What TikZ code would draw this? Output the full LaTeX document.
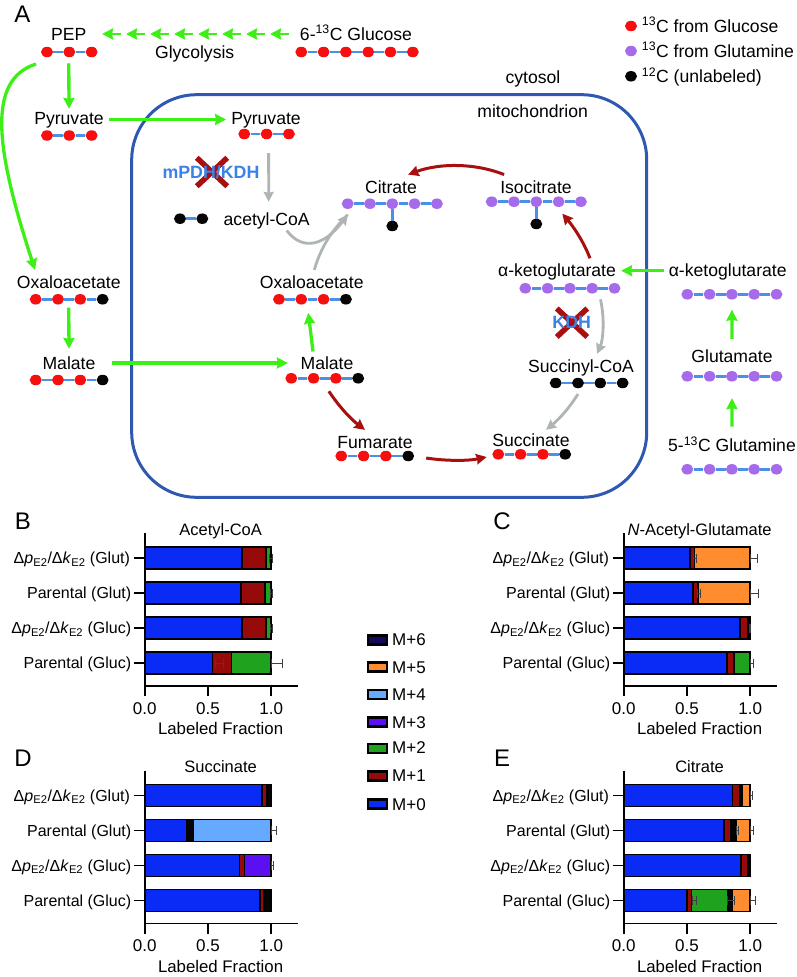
\documentclass[tikz,border=0pt]{standalone}
\usepackage{fontspec}
\setmainfont{Liberation Sans}
\usetikzlibrary{arrows.meta,shapes.geometric,shapes.misc}

\definecolor{labred}{HTML}{F50F0F}
\definecolor{labpurple}{HTML}{A56BEB}
\definecolor{labblack}{HTML}{050505}
\definecolor{bondblue}{HTML}{4A90E8}
\definecolor{mitoblue}{HTML}{2F58B0}
\definecolor{flowgreen}{HTML}{3CF015}
\definecolor{flowred}{HTML}{A80F0F}
\definecolor{flowgrey}{HTML}{AEB5B3}
\definecolor{enzblue}{HTML}{3B82E8}
\definecolor{mzero}{HTML}{0A2BF5}
\definecolor{mone}{HTML}{960A0A}
\definecolor{mtwo}{HTML}{1FA31F}
\definecolor{mthree}{HTML}{5A10F0}
\definecolor{mfour}{HTML}{66AAFF}
\definecolor{mfive}{HTML}{FF8C2E}
\definecolor{msix}{HTML}{14085A}

\tikzstyle{carbon} = [ellipse,minimum width=12pt,minimum height=10.5pt,inner sep=0pt]
\tikzstyle{bond} = [bondblue,line width=2.8pt]
\tikzstyle{metab} = [font=\fontsize{17.6}{20}\selectfont,text height=12.5pt,text depth=0pt,inner sep=0pt]
\tikzstyle{enzyme} = [metab,font=\fontsize{17.8}{20}\selectfont\bfseries,text=enzblue]
\tikzstyle{blocked} = [draw=flowred,cross out,line width=5.5pt,minimum width=25pt,minimum height=23pt,inner sep=0pt]
\tikzstyle{greenflow} = [flowgreen,line width=3.3pt,-{Stealth[length=11pt,width=11pt,inset=1pt]}]
\tikzstyle{redflow} = [flowred,line width=3pt,-{Stealth[length=10.5pt,width=10.5pt,inset=1pt]}]
\tikzstyle{greyflow} = [flowgrey,line width=2.8pt,-{Stealth[length=10pt,width=10pt,inset=1pt]}]
\tikzstyle{panelname} = [font=\fontsize{24}{26}\selectfont,text height=17pt,text depth=0pt,inner sep=0pt]
\tikzstyle{axisline} = [black,line width=1.7pt]
\tikzstyle{chartlab} = [font=\fontsize{16}{18}\selectfont,text height=11.5pt,text depth=0pt,inner sep=0pt]
\tikzstyle{segment} = [draw=black,line width=1.7pt]
\tikzstyle{whisker} = [black!75,line width=0.6pt,{Bar[width=9pt]}-{Bar[width=9pt]}]

% name, first x, y, colours
\newcommand{\carbonchain}[4]{
	\foreach \colr [count=\i, remember=\i as \p (initially 0)] in {#4}{
		\node[carbon,fill=\colr] (#1\i) at ({#2+(\i-1)*22.3},#3) {};
		\ifnum\p>0 \draw[bond] (#1\p) -- (#1\i); \fi
	}
}
% row y, from, to, colour
\newcommand{\barseg}[4]{\draw[segment,fill=#4] ({#2},{#1-11}) rectangle ({#3},{#1+11});}
\newcommand{\whisk}[3]{\draw[whisker] ({#2},#1) -- ({#3},#1);}
% axes of one chart, title as argument
\newcommand{\chartaxes}[1]{
	\draw[axisline] (0,533) -- (0,696);
	\draw[axisline] (0,686) -- (1.21,686);
	\draw[axisline] (0.5,686) -- (0.5,696);
	\draw[axisline] (1,686) -- (1,696);
	\foreach \r in {558,593,628,663}{\draw[axisline] (-0.085,\r) -- (0,\r);}
	\node[metab,font=\fontsize{16.5}{18}\selectfont] (title) at (0.6,529) {#1};
	\node[chartlab,anchor=east] (row1) at (-0.115,558) {Δ\textit{p}\textsubscript{E2}/Δ\textit{k}\textsubscript{E2} (Glut)};
	\node[chartlab,anchor=east] (row2) at (-0.105,593) {Parental (Glut)};
	\node[chartlab,anchor=east] (row3) at (-0.105,628) {Δ\textit{p}\textsubscript{E2}/Δ\textit{k}\textsubscript{E2} (Gluc)};
	\node[chartlab,anchor=east] (row4) at (-0.105,663) {Parental (Gluc)};
	\node[metab,font=\fontsize{17}{19}\selectfont] (tick0) at (0,708) {0.0};
	\node[metab,font=\fontsize{17}{19}\selectfont] (tick1) at (0.5,708) {0.5};
	\node[metab,font=\fontsize{17}{19}\selectfont] (tick2) at (1,708) {1.0};
	\node[metab,font=\fontsize{16.8}{19}\selectfont] (xlabel) at (0.6,728.5) {Labeled Fraction};
}

\begin{document}
\begin{tikzpicture}[x=1pt,y=-1pt]
	\useasboundingbox (0,0) rectangle (796,977);

	% panel A
	\node[panelname] (panA) at (22.5,14) {A};
	\node[draw=mitoblue,line width=3pt,rounded corners=65pt,minimum width=515pt,minimum height=402.6pt] (mito) at (389.2,296) {};
	\node[metab] (cytosol) at (533,77) {cytosol};
	\node[metab] (mitochondrion) at (532.7,111) {mitochondrion};

	\node[metab] (pep) at (68.7,34) {PEP};
	\node[metab] (glucose) at (356,34) {6-\textsuperscript{13}C Glucose};
	\node[metab] (glycolysis) at (194.7,52) {Glycolysis};
	\node[metab] (pyrA) at (69,118) {Pyruvate};
	\node[metab] (pyrB) at (266,118) {Pyruvate};
	\node[metab] (acetyl) at (266.7,219) {acetyl-CoA};
	\node[metab] (citrate) at (391,187) {Citrate};
	\node[metab] (isocitrate) at (536,187) {Isocitrate};
	\node[metab] (oaaA) at (68.7,282.7) {Oxaloacetate};
	\node[metab] (oaaB) at (311.7,282.7) {Oxaloacetate};
	\node[metab] (malA) at (69,363) {Malate};
	\node[metab] (malB) at (327,363) {Malate};
	\node[metab] (fumarate) at (375,442) {Fumarate};
	\node[metab] (succinate) at (531,440.5) {Succinate};
	\node[metab] (succoa) at (581,366) {Succinyl-CoA};
	\node[metab] (akgB) at (557,270.7) {α-ketoglutarate};
	\node[metab] (akgA) at (727.7,270.7) {α-ketoglutarate};
	\node[metab] (glutamate) at (732,356.7) {Glutamate};
	\node[metab] (glutamine) at (732,445.7) {5-\textsuperscript{13}C Glutamine};

	\carbonchain{cpep}{47}{52}{labred,labred,labred}
	\carbonchain{cglc}{301.3}{52}{labred,labred,labred,labred,labred,labred}
	\carbonchain{cpyrA}{47}{135.5}{labred,labred,labred}
	\carbonchain{cpyrB}{244.3}{134}{labred,labred,labred}
	\carbonchain{cace}{180}{218.7}{labblack,labblack}
	\carbonchain{ccit}{347.7}{203.7}{labpurple,labpurple,labpurple,labpurple,labpurple}
	\carbonchain{ciso}{491.7}{201.7}{labpurple,labpurple,labpurple,labpurple,labpurple}
	\carbonchain{coaaA}{35.7}{299.3}{labred,labred,labred,labblack}
	\carbonchain{coaaB}{279}{299.3}{labred,labred,labred,labblack}
	\carbonchain{cmalA}{35.7}{380}{labred,labred,labred,labblack}
	\carbonchain{cmalB}{291.3}{378.3}{labred,labred,labred,labblack}
	\carbonchain{cfum}{341.3}{456}{labred,labred,labred,labblack}
	\carbonchain{csuc}{498.3}{454.3}{labred,labred,labred,labblack}
	\carbonchain{cscoa}{555.7}{383}{labblack,labblack,labblack,labblack}
	\carbonchain{cakgB}{525.3}{288.3}{labpurple,labpurple,labpurple,labpurple,labpurple}
	\carbonchain{cakgA}{687.3}{294.3}{labpurple,labpurple,labpurple,labpurple,labpurple}
	\carbonchain{cglu}{687.3}{376.3}{labpurple,labpurple,labpurple,labpurple,labpurple}
	\carbonchain{cgln}{687.3}{469.3}{labpurple,labpurple,labpurple,labpurple,labpurple}

	\node[carbon,fill=labblack] (ccitx) at (392.3,226) {};
	\node[carbon,fill=labblack] (cisox) at (536.3,224) {};
	\draw[bond] (ccit3) -- (ccitx);
	\draw[bond] (ciso3) -- (cisox);

	% legend
	\node[carbon,fill=labred] (keyred) at (631,26) {};
	\node[carbon,fill=labpurple] (keypurple) at (631,51) {};
	\node[carbon,fill=labblack] (keyblack) at (631,76.3) {};
	\node[metab,anchor=west] (keyredtxt) at (641.7,26) {\textsuperscript{13}C from Glucose};
	\node[metab,anchor=west] (keypurpletxt) at (641.7,51) {\textsuperscript{13}C from Glutamine};
	\node[metab,anchor=west] (keyblacktxt) at (641.7,76.3) {\textsuperscript{12}C (unlabeled)};

	% enzymes
	\node[blocked] (xpdh) at (212,172) {};
	\node[enzyme] (pdh) at (211,172.7) {mPDH/KDH};
	\node[blocked] (xkdh) at (572,322.7) {};
	\node[enzyme] (kdh) at (571.7,322.7) {KDH};

	% green arrows
	\foreach \i in {0,...,7}{
		\coordinate (gtip\i) at ({102+24*\i},34);
		\coordinate (gend\i) at ({120.5+24*\i},34);
		\draw[greenflow,line width=2.8pt] (gend\i) -- (gtip\i);
	}
	\draw[greenflow,shorten <=23pt,shorten >=2.7pt] (pep) -- (pyrA);
	\draw[greenflow,shorten <=5.5pt,shorten >=5pt] ([yshift=-1.5pt]pyrA.east) -- ([yshift=-1.5pt]pyrB.west);
	\draw[greenflow] ([xshift=-11pt,yshift=-12pt]cpep1.center) .. controls (-14,80) and (-4,150) .. ([xshift=-33.7pt,yshift=6.4pt]oaaA.north);
	\draw[greenflow,shorten <=18.5pt,shorten >=7.7pt] (oaaA) -- (malA);
	\draw[greenflow,shorten <=16pt,shorten >=12.5pt] (malA) -- (malB);
	\draw[greenflow] ([xshift=-14pt,yshift=5pt]malB.north) -- ([xshift=-3.4pt,yshift=-23.7pt]oaaB.south);
	\draw[greenflow,shorten <=4.7pt,shorten >=5pt] (akgA) -- (akgB);
	\draw[greenflow,shorten <=12.7pt,shorten >=16.4pt] (glutamine) -- (cglu3);
	\draw[greenflow,shorten <=11.4pt,shorten >=10pt] (glutamate) -- (cakgA3);

	% red arrows
	\draw[redflow] ([xshift=4pt,yshift=6pt]isocitrate.north west) .. controls (475,163) and (440,163) .. ([xshift=-9pt,yshift=6pt]citrate.north east);
	\draw[redflow] ([xshift=33pt,yshift=6pt]akgB.north) .. controls (583,240) and (572,225) .. ([xshift=3.7pt,yshift=-12pt]ciso4.center);
	\draw[redflow] ([xshift=-7pt,yshift=-13pt]cmalB3.center) .. controls (340,408) and (352,420) .. ([xshift=-10pt,yshift=5.7pt]fumarate.north);
	\draw[redflow] ([xshift=18pt,yshift=-2pt]cfum4.center) .. controls (445,461) and (468,461) .. ([xshift=-11.6pt,yshift=-2.7pt]csuc1.center);

	% grey arrows
	\draw[greyflow,shorten <=13.7pt,shorten >=10.7pt] ([xshift=2pt]cpyrB2.south) -- ([xshift=2pt]acetyl.north);
	\draw[flowgrey,line width=2.8pt] ([xshift=2.6pt,yshift=6.4pt]oaaB.north) .. controls (320,250) and (330,232) .. ([yshift=-11pt]ccit1.center);
	\draw[greyflow] ([xshift=20pt,yshift=-5pt]acetyl.south) .. controls (303,252) and (325,245) .. ([yshift=-11pt]ccit1.center);
	\draw[greyflow] ([xshift=-14pt,yshift=-11pt]cakgB5.center) .. controls (605,320) and (603,340) .. ([xshift=16pt,yshift=5.7pt]succoa.north);
	\draw[greyflow] ([yshift=-11pt]cscoa2.center) .. controls (568,410) and (558,420) .. ([xshift=15pt,yshift=4.2pt]succinate.north);

	% panel B
	\node[panelname] (panB) at (23,521) {B};
	\begin{scope}[shift={(144.7,0)},x=126.5pt,name prefix=b-]
		\chartaxes{Acetyl-CoA}
		\barseg{558}{0}{0.77}{mzero}
		\barseg{558}{0.77}{0.96}{mone}
		\barseg{558}{0.96}{1}{mtwo}
		\whisk{558}{0.98}{1.01}
		\barseg{593}{0}{0.76}{mzero}
		\barseg{593}{0.76}{0.95}{mone}
		\barseg{593}{0.95}{1}{mtwo}
		\whisk{593}{0.99}{1.01}
		\barseg{628}{0}{0.77}{mzero}
		\barseg{628}{0.77}{0.96}{mone}
		\barseg{628}{0.96}{1}{mtwo}
		\whisk{628}{0.99}{1.01}
		\barseg{663}{0}{0.535}{mzero}
		\barseg{663}{0.535}{0.685}{mone}
		\barseg{663}{0.685}{1}{mtwo}
		\whisk{663}{0.557}{0.623}
		\whisk{663}{1}{1.087}
	\end{scope}

	% panel C
	\node[panelname] (panC) at (502,521) {C};
	\begin{scope}[shift={(623.7,0)},x=126.5pt,name prefix=c-]
		\chartaxes{\textit{N}-Acetyl-Glutamate}
		\barseg{558}{0}{0.525}{mzero}
		\barseg{558}{0.525}{0.56}{mone}
		\barseg{558}{0.56}{1}{mfive}
		\whisk{558}{0.55}{0.575}
		\whisk{558}{1}{1.06}
		\barseg{593}{0}{0.545}{mzero}
		\barseg{593}{0.545}{0.59}{mone}
		\barseg{593}{0.59}{1}{mfive}
		\whisk{593}{0.58}{0.61}
		\whisk{593}{1}{1.07}
		\barseg{628}{0}{0.92}{mzero}
		\barseg{628}{0.92}{0.985}{mone}
		\barseg{628}{0.985}{1}{mtwo}
		\whisk{628}{0.99}{1.005}
		\barseg{663}{0}{0.815}{mzero}
		\barseg{663}{0.815}{0.87}{mone}
		\barseg{663}{0.87}{1}{mtwo}
		\whisk{663}{1}{1.03}
	\end{scope}

	% panel D
	\node[panelname] (panD) at (23,758) {D};
	\begin{scope}[shift={(144.7,237.5)},x=126.5pt,name prefix=d-]
		\chartaxes{Succinate}
		\barseg{558}{0}{0.93}{mzero}
		\barseg{558}{0.93}{0.965}{mone}
		\barseg{558}{0.965}{1}{labblack}
		\barseg{593}{0}{0.335}{mzero}
		\barseg{593}{0.335}{0.385}{labblack}
		\barseg{593}{0.385}{1}{mfour}
		\whisk{593}{1}{1.04}
		\barseg{628}{0}{0.75}{mzero}
		\barseg{628}{0.75}{0.79}{mone}
		\barseg{628}{0.79}{1}{mthree}
		\whisk{628}{1}{1.02}
		\barseg{663}{0}{0.91}{mzero}
		\barseg{663}{0.91}{0.945}{mone}
		\barseg{663}{0.945}{1}{labblack}
	\end{scope}

	% panel E
	\node[panelname] (panE) at (502,758) {E};
	\begin{scope}[shift={(623.7,237.5)},x=126.5pt,name prefix=e-]
		\chartaxes{Citrate}
		\barseg{558}{0}{0.86}{mzero}
		\barseg{558}{0.86}{0.92}{mone}
		\barseg{558}{0.92}{0.935}{labblack}
		\barseg{558}{0.935}{1}{mfive}
		\whisk{558}{1}{1.02}
		\barseg{593}{0}{0.795}{mzero}
		\barseg{593}{0.795}{0.85}{mone}
		\barseg{593}{0.85}{0.87}{labblack}
		\barseg{593}{0.87}{0.89}{mfour}
		\barseg{593}{0.89}{1}{mfive}
		\whisk{593}{0.89}{0.905}
		\whisk{593}{1}{1.03}
		\barseg{628}{0}{0.925}{mzero}
		\barseg{628}{0.925}{0.98}{mone}
		\barseg{628}{0.98}{1}{labblack}
		\barseg{663}{0}{0.5}{mzero}
		\barseg{663}{0.5}{0.535}{mone}
		\barseg{663}{0.535}{0.825}{mtwo}
		\barseg{663}{0.825}{0.86}{labblack}
		\barseg{663}{0.86}{1}{mfive}
		\whisk{663}{0.54}{0.58}
		\whisk{663}{0.82}{0.88}
		\whisk{663}{1}{1.04}
	\end{scope}

	% mass isotopomer key
	\tikzset{keybox/.style={draw=black,line width=2.8pt,minimum width=19pt,minimum height=9pt,inner sep=0pt},
		keytxt/.style={metab,font=\fontsize{17}{19}\selectfont,anchor=west}}
	\node[keybox,fill=msix] (box6) at (377.5,640) {};
	\node[keybox,fill=mfive] (box5) at (377.5,667) {};
	\node[keybox,fill=mfour] (box4) at (377.5,694.5) {};
	\node[keybox,fill=mthree] (box3) at (377.5,722) {};
	\node[keybox,fill=mtwo] (box2) at (377.5,748.5) {};
	\node[keybox,fill=mone] (box1) at (377.5,776) {};
	\node[keybox,fill=mzero] (box0) at (377.5,804) {};
	\node[keytxt] (key6) at (392,639) {M+6};
	\node[keytxt] (key5) at (392,667) {M+5};
	\node[keytxt] (key4) at (392,694.5) {M+4};
	\node[keytxt] (key3) at (392,722) {M+3};
	\node[keytxt] (key2) at (392,747.5) {M+2};
	\node[keytxt] (key1) at (392,775.5) {M+1};
	\node[keytxt] (key0) at (392,804) {M+0};
\end{tikzpicture}
\end{document}
